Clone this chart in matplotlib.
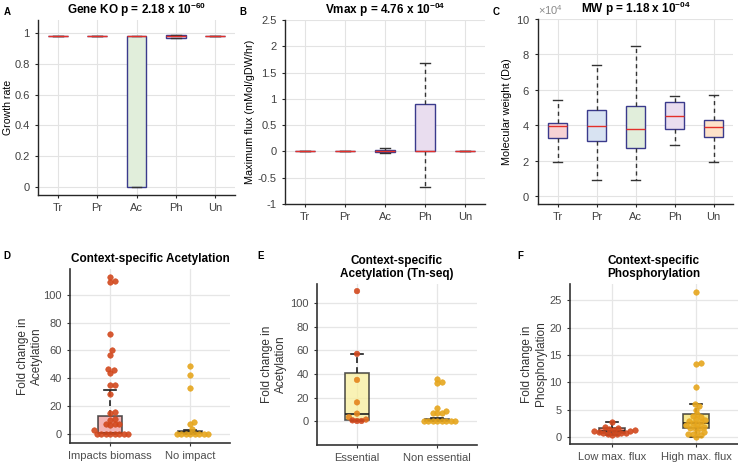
import numpy as np
import matplotlib
matplotlib.use("Agg")
import matplotlib.pyplot as plt
from matplotlib.ticker import ScalarFormatter

plt.rcParams['font.family'] = ['Liberation Sans', 'DejaVu Sans']
plt.rcParams['mathtext.fontset'] = 'custom'
plt.rcParams['mathtext.rm'] = 'Liberation Sans'
plt.rcParams['mathtext.bf'] = 'Liberation Sans:bold'

# ---------------- data ----------------
cats_abc = ['Tr', 'Pr', 'Ac', 'Ph', 'Un']
abc_faces = ['#f7d3d5', '#d8e3f2', '#e1eedb', '#e9ddef', '#fde2c9']

# A: growth rate
gr_whislo = [0.985, 0.985, 0.0, 0.968, 0.985]
gr_q1 = [0.985, 0.985, 0.0, 0.968, 0.985]
gr_med = [0.985, 0.985, 0.985, 0.980, 0.985]
gr_q3 = [0.985, 0.985, 0.985, 0.988, 0.985]
gr_whishi = [0.985, 0.985, 0.985, 0.988, 0.985]

# B: maximum flux
vm_whislo = [0.0, 0.0, -0.03, -0.68, 0.0]
vm_q1 = [0.0, 0.0, -0.005, 0.0, 0.0]
vm_med = [0.0, 0.0, 0.0, 0.0, 0.0]
vm_q3 = [0.0, 0.0, 0.03, 0.91, 0.0]
vm_whishi = [0.0, 0.0, 0.065, 1.68, 0.0]

# C: molecular weight (Da)
mw_whislo = [19300, 8800, 9200, 28800, 19300]
mw_q1 = [32500, 31200, 27300, 37800, 33200]
mw_med = [39300, 39300, 37700, 45300, 38800]
mw_q3 = [41500, 48500, 50800, 53000, 42800]
mw_whishi = [54500, 73800, 84500, 56500, 57000]

# D: context-specific acetylation
d_cats = ['Impacts biomass', 'No impact']
d_impacts = [113, 110, 109.5, 71.5, 60, 57, 47, 46, 44, 35.5, 35, 29, 16, 15,
             11, 10, 7.5, 7, 7, 6.5, 3, 0.3, 0.3, 0.3, 0.3, 0.3, 0.3, 0.3, 0.3]
d_noimpact = [48.5, 42, 33, 8.5, 7, 3.2, 0.3, 0.3, 0.3, 0.3, 0.3, 0.3, 0.3, 0.3]
d_whislo = [0.0, 0.0]
d_q1 = [0.6, 0.4]
d_med = [1.0, 1.2]
d_q3 = [13.0, 1.8]
d_whishi = [31.5, 2.5]

# E: acetylation (Tn-seq)
e_cats = ['Essential', 'Non essential']
e_essential = [110, 57, 35, 16, 6.5, 3.5, 1.5, 0.8, 0.3, 0.3]
e_nonessential = [36, 33.5, 32, 11, 9, 7, 7, 7, 0.3, 0.3, 0.3, 0.3, 0.3, 0.3,
                  0.3, 0.3]
e_whislo = [0.0, 0.0]
e_q1 = [1.2, 0.3]
e_med = [6.5, 1.0]
e_q3 = [40.5, 2.0]
e_whishi = [57.0, 3.0]

# F: phosphorylation
f_cats = ['Low max. flux', 'High max. flux']
f_low = [2.8, 1.8, 1.6, 1.5, 1.3, 1.2, 1.1, 1.0, 0.9, 0.8, 0.8, 0.7, 0.6, 0.5, 0.4]
f_high = [26.6, 13.6, 13.3, 9.1, 6.1, 5.6, 5.0, 4.2, 3.9, 3.6, 3.3, 3.1, 2.9, 2.7,
          2.5, 2.3, 2.1, 1.9, 1.7, 1.6, 1.6, 0.9, 0.9, 0.6, 0.6, 0.3, 0.05]
f_whislo = [0.35, 0.05]
f_q1 = [0.75, 1.6]
f_med = [1.1, 2.6]
f_q3 = [1.6, 4.2]
f_whishi = [2.8, 6.1]

# ---------------- helpers ----------------
W, H = 738, 465
fig = plt.figure(figsize=(W / 100, H / 100), dpi=100)


def add_ax(l, r, t, b):
    return fig.add_axes([l / W, 1 - b / H, (r - l) / W, (b - t) / H])


def stats(whislo, q1, med, q3, whishi):
    return [dict(whislo=a, q1=b, med=c, q3=d, whishi=e, fliers=[])
            for a, b, c, d, e in zip(whislo, q1, med, q3, whishi)]


def style_matlab(ax):
    for s in ['top', 'right']:
        ax.spines[s].set_visible(False)
    for s in ['left', 'bottom']:
        ax.spines[s].set_color('#262626')
        ax.spines[s].set_linewidth(1.0)
    ax.grid(True, color='#e3e3e3', linewidth=0.8)
    ax.set_axisbelow(True)
    ax.tick_params(labelsize=8, colors='#262626', labelcolor='#404040',
                   length=2.5, width=0.8)


def style_gg(ax):
    for s in ['top', 'right']:
        ax.spines[s].set_visible(False)
    for s in ['left', 'bottom']:
        ax.spines[s].set_color('#333333')
        ax.spines[s].set_linewidth(1.2)
    ax.grid(True, color='#e6e6e6', linewidth=0.9)
    ax.set_axisbelow(True)
    ax.tick_params(labelsize=8, colors='#333333', labelcolor='#4d4d4d',
                   length=2.5, width=0.8)


def matlab_box(ax, st, faces):
    pos = np.arange(1, len(st) + 1)
    bp = ax.bxp(st, positions=pos, widths=0.5, patch_artist=True,
                showfliers=False,
                boxprops=dict(edgecolor='#3a3a8c', linewidth=1.0),
                medianprops=dict(color='#e3302a', linewidth=1.0, zorder=4),
                whiskerprops=dict(color='#333333', linewidth=1.0, linestyle=(0, (3, 2.5))),
                capprops=dict(color='#333333', linewidth=1.0), capwidths=0.25)
    for p, f in zip(bp['boxes'], faces):
        p.set_facecolor(f)
    return bp


def swarm(ax, x0, vals, sep=4.5):
    vals = np.asarray(vals, float)
    disp = ax.transData.transform(np.column_stack([np.full(len(vals), x0), vals]))
    ys = disp[:, 1]
    ppu = ax.transData.transform([(1, 0)])[0][0] - ax.transData.transform([(0, 0)])[0][0]
    order = np.argsort(ys)
    placed = []
    xoff = np.zeros(len(vals))
    for i in order:
        k = 0
        chosen = None
        while chosen is None:
            cands = [0.0] if k == 0 else [k * 0.5, -k * 0.5]
            for c in cands:
                if all((c - px) ** 2 + (ys[i] - py) ** 2 >= sep ** 2 for px, py in placed):
                    chosen = c
                    break
            k += 1
        placed.append((chosen, ys[i]))
        xoff[i] = chosen
    return x0 + xoff / ppu


def gg_box(ax, st, faces, alpha=0.75):
    pos = np.arange(1, len(st) + 1)
    bp = ax.bxp(st, positions=pos, widths=0.3, patch_artist=True,
                showfliers=False,
                boxprops=dict(edgecolor='#1f1f1f', linewidth=1.2),
                medianprops=dict(color='#1f1f1f', linewidth=1.2),
                whiskerprops=dict(color='#1f1f1f', linewidth=1.2, linestyle=(0, (3.5, 2.5))),
                capprops=dict(color='#1f1f1f', linewidth=1.2), capwidths=0.15)
    for p, f in zip(bp['boxes'], faces):
        p.set_facecolor(f)
        p.set_alpha(alpha)
        p.set_edgecolor('#1f1f1f')
    return bp


def title_math(base, exp):
    return base + r' x 10$^{\mathbf{' + exp + r'}}$'


# ---------------- A ----------------
axA = add_ax(38, 235, 20, 195)
style_matlab(axA)
matlab_box(axA, stats(gr_whislo, gr_q1, gr_med, gr_q3, gr_whishi), abc_faces)
axA.set_xlim(0.5, 5.5)
axA.set_ylim(-0.054, 1.087)
axA.set_yticks([0, 0.2, 0.4, 0.6, 0.8, 1])
axA.set_yticklabels(['0', '0.2', '0.4', '0.6', '0.8', '1'])
axA.set_xticks(range(1, 6))
axA.set_xticklabels(cats_abc)
axA.set_ylabel('Growth rate', fontsize=7.6)
axA.yaxis.set_label_coords(-0.125, 0.5)
axA.set_title(title_math('Gene KO p = 2.18', '-60'), fontsize=8.5, fontweight='bold', pad=4)

# ---------------- B ----------------
axB = add_ax(285, 485, 20, 204)
style_matlab(axB)
matlab_box(axB, stats(vm_whislo, vm_q1, vm_med, vm_q3, vm_whishi), abc_faces)
axB.set_xlim(0.5, 5.5)
axB.set_ylim(-1, 2.5)
axB.set_yticks([-1, -0.5, 0, 0.5, 1, 1.5, 2, 2.5])
axB.set_yticklabels(['-1', '-0.5', '0', '0.5', '1', '1.5', '2', '2.5'])
axB.set_xticks(range(1, 6))
axB.set_xticklabels(cats_abc)
axB.set_ylabel('Maximum flux (mMol/gDW/hr)', fontsize=7.8)
axB.yaxis.set_label_coords(-0.15, 0.5)
axB.set_title(title_math('Vmax p = 4.76', '-04'), fontsize=8.5, fontweight='bold', pad=4)

# ---------------- C ----------------
axC = add_ax(538, 733, 19, 204)
style_matlab(axC)
matlab_box(axC, stats(mw_whislo, mw_q1, mw_med, mw_q3, mw_whishi), abc_faces)
axC.set_xlim(0.5, 5.5)
axC.set_ylim(-4500, 100000)
axC.set_yticks([0, 20000, 40000, 60000, 80000, 100000])
fmt = ScalarFormatter(useMathText=True)
fmt.set_powerlimits((4, 4))
axC.yaxis.set_major_formatter(fmt)
axC.yaxis.get_offset_text().set_fontsize(8)
axC.yaxis.get_offset_text().set_color('#8a8a8a')
axC.set_xticks(range(1, 6))
axC.set_xticklabels(cats_abc)
axC.set_ylabel('Molecular weight (Da)', fontsize=7.8)
axC.yaxis.set_label_coords(-0.133, 0.5)
axC.set_title(title_math('MW p = 1.18', '-04'), fontsize=8.5, fontweight='bold', pad=4)

# ---------------- D ----------------
red_pt = '#d2481d'
gold_pt = '#e6a61d'
axD = add_ax(70, 230, 269, 443)
style_gg(axD)
axD.set_xlim(0.5, 2.5)
axD.set_ylim(-6.5, 118.5)
gg_box(axD, stats(d_whislo, d_q1, d_med, d_q3, d_whishi), ['#f09a9a', '#f3c95a'])
for xc, vals, col in [(1, d_impacts, red_pt), (2, d_noimpact, gold_pt)]:
    xs = swarm(axD, xc, vals)
    axD.scatter(xs, vals, s=16, color=col, edgecolor=col, linewidth=0.4, alpha=0.9, zorder=5)
axD.set_xticks([1, 2])
axD.set_xticklabels(d_cats)
axD.set_yticks([0, 20, 40, 60, 80, 100])
axD.set_ylabel('Fold change in\nAcetylation', fontsize=8.5, color='#333333')
axD.yaxis.set_label_coords(-0.169, 0.5)
axD.set_title('Context-specific Acetylation', fontsize=8.5, fontweight='bold', pad=5)

# ---------------- E ----------------
axE = add_ax(317, 477, 284, 445)
style_gg(axE)
axE.set_xlim(0.5, 2.5)
axE.set_ylim(-20, 116)
gg_box(axE, stats(e_whislo, e_q1, e_med, e_q3, e_whishi), ['#f7ee9c', '#f3c95a'])
e_ess_cols = [red_pt, red_pt, '#e4841c', '#e4841c', '#e4841c', '#e4841c',
              '#e06a1c', red_pt, red_pt, red_pt]
xs = swarm(axE, 1, e_essential)
axE.scatter(xs, e_essential, s=16, c=e_ess_cols, edgecolors=e_ess_cols,
            linewidth=0.4, alpha=0.9, zorder=5)
xs = swarm(axE, 2, e_nonessential)
axE.scatter(xs, e_nonessential, s=16, color=gold_pt, edgecolor=gold_pt,
            linewidth=0.4, alpha=0.9, zorder=5)
axE.set_xticks([1, 2])
axE.set_xticklabels(e_cats)
axE.set_yticks([0, 20, 40, 60, 80, 100])
axE.set_ylabel('Fold change in\nAcetylation', fontsize=8.5, color='#333333')
axE.yaxis.set_label_coords(-0.1875, 0.5)
axE.set_title('Context-specific\nAcetylation (Tn-seq)', fontsize=8.5,
              fontweight='bold', pad=5, linespacing=1.15)

# ---------------- F ----------------
axF = add_ax(570, 738, 284, 444)
style_gg(axF)
axF.set_xlim(0.5, 2.5)
axF.set_ylim(-1.3, 28)
gg_box(axF, stats(f_whislo, f_q1, f_med, f_q3, f_whishi), ['#e8705a', '#f5df6a'])
for xc, vals, col in [(1, f_low, red_pt), (2, f_high, gold_pt)]:
    xs = swarm(axF, xc, vals)
    axF.scatter(xs, vals, s=16, color=col, edgecolor=col, linewidth=0.4, alpha=0.9, zorder=5)
axF.set_xticks([1, 2])
axF.set_xticklabels(f_cats)
axF.set_yticks([0, 5, 10, 15, 20, 25])
axF.set_ylabel('Fold change in\nPhosphorylation', fontsize=8.5, color='#333333')
axF.yaxis.set_label_coords(-0.137, 0.5)
axF.set_title('Context-specific\nPhosphorylation', fontsize=8.5,
              fontweight='bold', pad=5, linespacing=1.15)

# panel letters
for lab, x, y in [('A', 4, 12), ('B', 239, 12), ('C', 493, 12),
                  ('D', 3, 256), ('E', 257, 256), ('F', 517, 256)]:
    fig.text(x / W, 1 - y / H, lab, fontsize=7, fontweight='bold', va='center', ha='left')

fig.savefig('out.png', dpi=100)
